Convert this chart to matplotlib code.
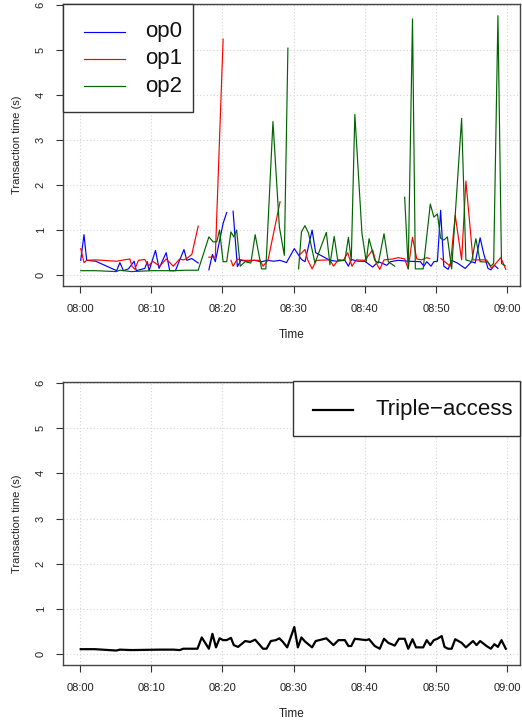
import numpy as np
import matplotlib
matplotlib.use("Agg")
import matplotlib.pyplot as plt
from matplotlib.patches import Rectangle
from matplotlib.lines import Line2D

nan = np.nan

# ---- data (minutes after 08:00, transaction time in seconds) ----
op0_t = [0.1, 0.56, 0.94, 2.2, 5.15, 5.6, 6.1, 6.8, 7.6, 7.9, 9.1, 9.45, 9.7, 10.6, 11.1, 12.1, 12.6, 13.4,
         14.6, 15.0, 15.7, 16.6, 17.3, 18.1, 18.6, 19.0, 20.1, 20.6, 21.0, 21.5, 22.1, 22.6, 23.5, 24.5, 25.5,
         26.3, 27.2, 28.1, 29.0, 30.1, 31.1, 31.6, 32.6, 33.1, 35.1, 36.0, 37.2, 37.7, 38.1, 39.0, 40.0, 41.1,
         41.9, 43.1, 43.6, 44.7, 46.0, 47.8, 48.3, 48.7, 49.3, 49.7, 50.2, 50.65, 51.1, 51.7, 52.2, 53.0, 54.1,
         55.0, 55.5, 56.2, 56.7, 57.3, 57.7, 58.2, 58.7]
op0_v = [0.33, 0.90, 0.33, 0.31, 0.10, 0.28, 0.10, 0.14, 0.31, 0.10, 0.15, 0.30, 0.10, 0.55, 0.15, 0.50, 0.10, 0.10,
         0.57, 0.33, 0.37, 0.27, nan, 0.12, 0.46, 0.30, 1.15, 1.39, nan, 1.42, 0.19, 0.33, 0.31, 0.33, 0.30,
         0.33, 0.31, 0.33, 0.28, 0.59, 0.35, 0.30, 1.00, 0.50, 0.33, 0.31, 0.33, 0.20, 0.35, 0.31, 0.31, 0.18,
         0.30, 0.22, 0.30, 0.33, 0.31, 0.30, 0.20, 0.30, 0.20, 0.30, 0.31, 1.44, 0.20, 0.13, 0.33, 0.27, 0.15,
         0.30, 0.27, 0.83, 0.48, 0.15, 0.12, 0.22, 0.15]

op1_t = [0.1, 0.56, 0.94, 2.2, 5.1, 7.0, 7.3, 7.7, 8.2, 9.1, 9.6, 10.2, 11.2, 12.1, 13.1, 14.0, 14.5, 14.9,
         15.7, 16.6, 17.3, 18.1, 19.0, 20.1, 20.6, 21.2, 21.5, 22.1, 23.0, 24.5, 25.3, 25.7, 26.4, 28.1, 29.5,
         30.9, 31.6, 32.0, 32.6, 33.2, 35.1, 35.6, 36.3, 37.0, 37.6, 38.2, 38.8, 40.0, 41.1, 41.6, 42.1, 42.7,
         43.9, 44.7, 45.6, 46.1, 46.7, 47.3, 48.0, 48.7, 49.1, 49.9, 50.7, 52.0, 52.7, 53.6, 54.2, 55.2, 57.1,
         57.8, 59.1, 59.8]
op1_v = [0.59, 0.28, 0.33, 0.34, 0.31, 0.36, 0.20, 0.13, 0.33, 0.35, 0.20, 0.31, 0.20, 0.36, 0.20, 0.36, 0.34, 0.36,
         0.46, 1.09, nan, 0.40, 0.40, 5.24, nan, 0.33, 0.20, 0.36, 0.33, 0.33, 0.33, 0.20, 0.33, 1.63, nan,
         0.46, 0.57, 0.33, 0.14, 0.33, 0.34, 0.20, 0.34, 0.33, 0.50, 0.20, 0.34, 0.33, 0.56, 0.27, 0.13, 0.34,
         0.36, 0.39, 0.36, 0.14, 0.84, 0.36, 0.34, 0.39, 0.37, nan, 0.37, 0.20, 1.33, 0.34, 2.09, 0.34, 0.34,
         0.15, 0.39, 0.13]

op2_t = [0.1, 2.2, 5.1, 5.6, 7.2, 10.1, 13.1, 14.9, 16.6, 18.1, 18.7, 19.2, 19.6, 20.1, 20.6, 21.2, 21.6, 22.0,
         22.5, 23.2, 24.0, 24.6, 25.5, 26.1, 27.1, 28.0, 28.7, 29.2, 30.0, 30.7, 31.1, 31.6, 32.1, 33.0, 34.6,
         35.1, 35.7, 36.2, 37.2, 37.7, 38.1, 38.6, 39.6, 40.2, 40.6, 41.4, 41.9, 42.7, 43.3, 44.2, 45.0, 45.6,
         46.1, 46.7, 47.1, 48.2, 49.2, 49.7, 50.2, 50.65, 51.1, 51.6, 52.2, 53.6, 54.2, 55.0, 55.6, 56.2, 57.3,
         57.7, 58.1, 58.7, 59.2, 59.7]
op2_v = [0.10, 0.10, 0.08, 0.11, 0.08, 0.10, 0.10, 0.11, 0.11, 0.85, 0.74, 0.74, 1.00, 0.30, 0.30, 0.96, 0.85, 1.00,
         0.20, 0.30, 0.27, 0.90, 0.14, 0.14, 3.41, 1.07, 0.44, 5.04, nan, 0.14, 0.96, 1.10, 0.93, 0.27, 0.95,
         0.23, 0.86, 0.33, 0.33, 0.84, 0.33, 3.57, 0.93, 0.30, 0.81, 0.33, 0.27, 0.92, 0.30, 0.20, nan, 1.73,
         0.14, 5.69, 0.14, 0.14, 1.58, 1.29, 1.36, 0.82, 0.78, 0.85, 0.14, 3.48, 0.34, 0.30, 0.81, 0.30, 0.29,
         0.20, 0.26, 5.76, 0.26, 0.21]

triple_t = [0.1, 2.1, 5.1, 5.6, 7.2, 11.2, 13.1, 14.0, 14.5, 16.5, 17.1, 18.1, 18.6, 19.1, 19.6, 20.1, 20.6, 21.2,
            21.6, 22.2, 23.2, 23.9, 24.6, 25.7, 26.2, 26.8, 27.5, 28.0, 28.5, 29.1, 30.1, 30.6, 31.1, 31.6, 32.6,
            33.1, 34.6, 35.6, 36.3, 37.2, 37.7, 38.1, 38.6, 40.2, 40.6, 41.4, 42.1, 42.7, 43.3, 44.2, 44.8, 45.6,
            46.1, 46.7, 47.2, 48.2, 48.7, 49.2, 49.7, 50.2, 50.8, 51.2, 51.7, 52.2, 52.7, 53.6, 54.2, 55.2, 55.7,
            56.2, 57.1, 57.7, 58.2, 58.7, 59.2, 59.8]
triple_v = [0.11, 0.11, 0.08, 0.10, 0.09, 0.10, 0.10, 0.09, 0.12, 0.12, 0.37, 0.12, 0.45, 0.15, 0.35, 0.31, 0.31, 0.36,
            0.20, 0.16, 0.29, 0.27, 0.32, 0.12, 0.12, 0.29, 0.31, 0.35, 0.27, 0.15, 0.60, 0.15, 0.37, 0.28, 0.15,
            0.29, 0.35, 0.20, 0.31, 0.31, 0.18, 0.18, 0.34, 0.31, 0.33, 0.18, 0.12, 0.34, 0.25, 0.19, 0.34, 0.34,
            0.12, 0.33, 0.15, 0.15, 0.31, 0.20, 0.31, 0.34, 0.40, 0.16, 0.12, 0.12, 0.33, 0.25, 0.15, 0.29, 0.20,
            0.29, 0.18, 0.12, 0.22, 0.16, 0.31, 0.12]

x_ticks = [0, 10, 20, 30, 40, 50, 60]
x_labels = ["08:00", "08:10", "08:20", "08:30", "08:40", "08:50", "09:00"]
y_ticks = [0, 1, 2, 3, 4, 5, 6]
top_names = ["op0", "op1", "op2"]
top_colors = ["#0000FF", "#FF0000", "#006400"]
bottom_name = "Triple\u2212access"

plt.rcParams['font.family'] = ['Liberation Sans', 'DejaVu Sans']

W, H = 522, 721
fig = plt.figure(figsize=(W / 100, H / 100), dpi=100)


def fx(px):
    return px / W


def fy(py):
    return 1 - py / H


def style_axes(ax):
    ax.set_xlim(-2.39, 61.8)
    ax.set_ylim(-0.24, 6.02)
    ax.set_xticks(x_ticks)
    ax.set_xticklabels(x_labels)
    ax.set_yticks(y_ticks)
    ax.set_yticklabels([str(v) for v in y_ticks], rotation=90, va='center')
    ax.grid(True, color='#d3d3d3', linestyle=(0, (1, 2)), linewidth=0.8)
    ax.set_axisbelow(True)
    for s in ax.spines.values():
        s.set_color('#444444')
        s.set_linewidth(1.0)
    ax.tick_params(axis='both', direction='out', length=5, width=0.8, colors='#333333',
                   labelsize=8, labelcolor='#222222')
    ax.tick_params(axis='x', pad=8)
    ax.tick_params(axis='y', pad=7.5)
    ax.tick_params(top=False, right=False)
    ax.set_xlabel("Time", fontsize=8.5, labelpad=11, color='#222222')
    ax.set_ylabel("Transaction time (s)", fontsize=8, labelpad=9.5, color='#222222')


ax1 = fig.add_axes([fx(63), fy(286), fx(520) - fx(63), fy(4) - fy(286)])
ax2 = fig.add_axes([fx(63), fy(665), fx(520) - fx(63), fy(382) - fy(665)])

for t, v, c in zip([op0_t, op1_t, op2_t], [op0_v, op1_v, op2_v], top_colors):
    ax1.plot(t, v, color=c, linewidth=0.85)
ax2.plot(triple_t, triple_v, color='black', linewidth=1.6)

style_axes(ax1)
style_axes(ax2)

# legend top (R style, drawn in pixel layout)
fig.add_artist(Rectangle((fx(63), fy(112)), fx(193) - fx(63), fy(4) - fy(112), transform=fig.transFigure,
                         facecolor='white', edgecolor='#333333', linewidth=1.0, zorder=5))
for i, (name, c) in enumerate(zip(top_names, top_colors)):
    yy = 31.5 + i * 27.3
    fig.add_artist(Line2D([fx(84), fx(125)], [fy(yy), fy(yy)], transform=fig.transFigure, color=c,
                          linewidth=0.85, zorder=6))
    fig.text(fx(145), fy(yy), name, fontsize=16, va='center', ha='left', zorder=6, color='#111111')

# legend bottom
fig.add_artist(Rectangle((fx(293), fy(436)), fx(520) - fx(293), fy(381) - fy(436), transform=fig.transFigure,
                         facecolor='white', edgecolor='#333333', linewidth=1.0, zorder=5))
fig.add_artist(Line2D([fx(313), fx(353)], [fy(410), fy(410)], transform=fig.transFigure, color='black',
                      linewidth=1.6, zorder=6))
fig.text(fx(375), fy(410), bottom_name, fontsize=16, va='center', ha='left', zorder=6, color='#111111')

fig.savefig("out.png", dpi=100)
